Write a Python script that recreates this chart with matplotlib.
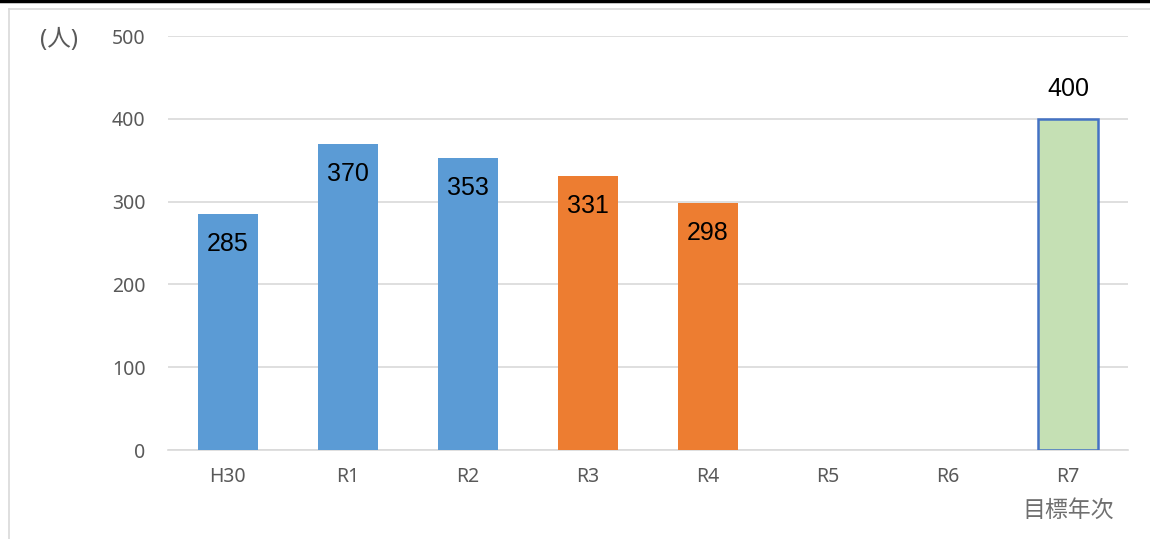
import matplotlib.pyplot as plt
from matplotlib.lines import Line2D
import numpy as np

plt.rcParams['font.family'] = ['Noto Sans', 'Noto Sans CJK JP', 'DejaVu Sans']

categories = ['H30', 'R1', 'R2', 'R3', 'R4', 'R5', 'R6', 'R7']
target_note = '目標年次'
values = [285, 370, 353, 331, 298, 0, 0, 400]
labels = ['285', '370', '353', '331', '298', '', '', '400']
colors = ['#5B9BD5', '#5B9BD5', '#5B9BD5', '#ED7D31', '#ED7D31', 'none', 'none', '#C5E0B4']
edges = ['none'] * 7 + ['#4472C4']
yticks = [0, 100, 200, 300, 400, 500]

fig = plt.figure(figsize=(11.5, 5.39), dpi=100)
ax = fig.add_axes([0.146, 0.165, 0.835, 0.768])

x = np.arange(len(categories))
bars = ax.bar(x, values, width=0.5, color=colors, edgecolor=edges, linewidth=1.8, zorder=3)

for i, (b, v, lab) in enumerate(zip(bars, values, labels)):
    if not lab:
        continue
    off = 30 if i == len(values) - 1 else -30
    ax.annotate(lab, (b.get_x() + b.get_width() / 2, v), xytext=(0, off),
                textcoords='offset pixels', ha='center', va='center',
                fontsize=18, family=['Liberation Sans'], color='black')

ax.set_xlim(-0.5, 7.5)
ax.set_ylim(0, 500)
ax.set_yticks(yticks)
ax.set_xticks(x)
ax.set_xticklabels(categories, fontsize=14, color='#595959', va='top')
ax.tick_params(axis='y', labelsize=14, labelcolor='#595959', length=0, pad=16)
ax.tick_params(axis='x', length=0, pad=12)
ax.grid(axis='y', color='#D9D9D9', linewidth=1.2, zorder=0)
for s in ['top', 'right', 'left']:
    ax.spines[s].set_visible(False)
ax.spines['bottom'].set_color('#D9D9D9')
ax.spines['bottom'].set_linewidth(1.2)

# second line under the last category
ax.annotate(target_note, (x[-1], 0), xycoords=('data', 'axes fraction'),
            xytext=(0, -61), textcoords='offset pixels', ha='center', va='center',
            fontsize=16.5, color='#6F6F6F')

fig.text(0.035, 0.925, '(人)', fontsize=17, color='#595959', ha='left', va='center')

# outer frame lines
fig.add_artist(Line2D([0, 1], [0.998, 0.998], color='black', linewidth=2.5))
fig.add_artist(Line2D([0.008, 1], [0.983, 0.983], color='#D9D9D9', linewidth=1.2))
fig.add_artist(Line2D([0.008, 0.008], [0, 0.983], color='#D9D9D9', linewidth=1.2))

fig.savefig('out.png', dpi=100)
